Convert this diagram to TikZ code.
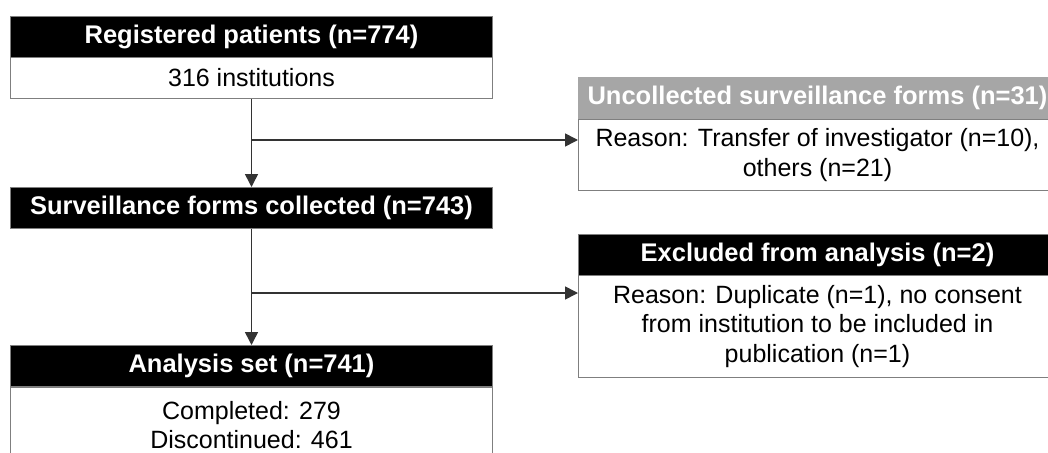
\documentclass[tikz,border=0pt]{standalone}
\usepackage{fontspec}
\setmainfont{Liberation Sans}
\usetikzlibrary{arrows.meta}
\definecolor{boxgray}{HTML}{7F7F7F}
\definecolor{lineC}{HTML}{333333}
\definecolor{hdrgray}{HTML}{A6A6A6}
\begin{document}
\begin{tikzpicture}[x=1pt,y=-1pt,
  hdr/.style={draw=boxgray, line width=1pt, fill=black, text=white,
    font=\bfseries\fontsize{25.5}{30}\selectfont, anchor=north west, inner sep=0pt,
    minimum height=41pt},
  bdy/.style={draw=boxgray, line width=1pt, fill=white, text=black,
    font=\fontsize{25}{29.5}\selectfont, align=center, anchor=north west, inner sep=0pt},
  conn/.style={draw=lineC, line width=1.6pt},
  arr/.style={conn, -{Triangle[length=13pt,width=13pt]}}]
\useasboundingbox (0,0) rectangle (1048,452);
\clip (0,0) rectangle (1048,452);
% left column
\node[bdy, minimum width=482pt, minimum height=41pt] (regB) at (10,57) {316 institutions};
\node[hdr, minimum width=482pt] (regH) at (10,16) {Registered patients (n=774)};
\node[hdr, minimum width=482pt] (survH) at (10,187) {Surveillance forms collected (n=743)};
\node[bdy, minimum width=482pt, minimum height=75pt] (anaB) at (10,387) {Completed: 279\\Discontinued: 461};
\node[hdr, minimum width=482pt] (anaH) at (10,345) {Analysis set (n=741)};
% right column
\node[bdy, minimum width=478pt, minimum height=71pt] (uncB) at (578,119) {Reason: Transfer of investigator (n=10),\\others (n=21)};
\node[hdr, minimum width=478pt, fill=hdrgray, draw=hdrgray] (uncH) at (578,77) {Uncollected surveillance forms (n=31)};
\node[bdy, minimum width=478pt, minimum height=102pt] (excB) at (578,275) {Reason: Duplicate (n=1), no consent\\from institution to be included in\\publication (n=1)};
\node[hdr, minimum width=478pt] (excH) at (578,234) {Excluded from analysis (n=2)};
% connectors
\draw[arr] (regB.south) -- (survH.north);
\coordinate (b1) at (251,140);
\draw[arr] (b1) -- (b1 -| uncB.west);
\draw[arr] (survH.south) -- (anaH.north);
\coordinate (b2) at (251,293);
\draw[arr] (b2) -- (b2 -| excB.west);
\end{tikzpicture}
\end{document}
